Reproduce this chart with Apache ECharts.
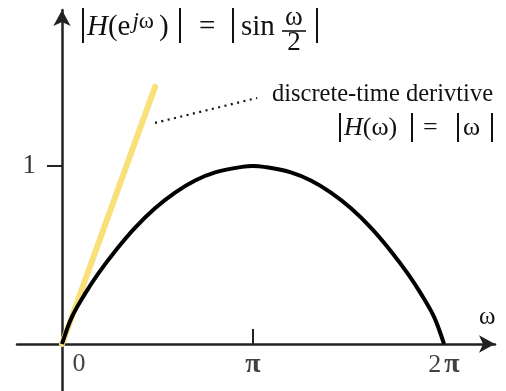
<!DOCTYPE html>
<html>
<head>
<meta charset="utf-8">
<style>
  html, body { margin: 0; padding: 0; background: #fff; }
  #chart { width: 506px; height: 391px; }
</style>
<script src="https://cdn.jsdelivr.net/npm/echarts@6/dist/echarts.min.js"></script>
</head>
<body>
<div id="chart"></div>
<script>
// Magnitude response |H(e^{jω})| of the discrete-time derivative, sampled over 0..2π
const omega = [0, 0.16, 0.38, 0.59, 0.87, 1.20, 1.53, 1.86, 2.19, 2.52, 2.96, 3.14,
               3.323, 3.763, 4.093, 4.423, 4.753, 5.083, 5.413, 5.693, 5.903, 6.123, 6.283];
const magnitude = [0, 0.150, 0.283, 0.393, 0.520, 0.652, 0.762, 0.850, 0.918, 0.964, 0.995, 1.0,
                   0.995, 0.964, 0.918, 0.850, 0.762, 0.652, 0.520, 0.393, 0.283, 0.150, 0];

// Ideal (continuous-time) derivative |H(ω)| = |ω|, drawn as a short straight segment
const idealOmega = [0, 1.53];
const idealMagnitude = [0, 1.444];

// Dotted leader from the ideal line to its caption
const leaderOmega = [1.53, 3.21];
const leaderMagnitude = [1.242, 1.382];

// Tick positions and labels
const xTickValues = [0, Math.PI, 2 * Math.PI];
const xTickLabels = ['{z|0}', '{p|π}', '{n|2}{p|π}'];
const yTickValues = [1];
const yTickLabels = ['1'];

const SERIF = '"Liberation Serif", "DejaVu Serif", serif';
const INK = '#111';

const zip = (a, b) => a.map((v, i) => [v, b[i]]);

const chart = echarts.init(document.getElementById('chart'), null, { renderer: 'canvas' });

function bar(x, y1, y2) {
  return { type: 'line', shape: { x1: x, y1: y1, x2: x, y2: y2 },
           style: { stroke: INK, lineWidth: 2 }, z: 100 };
}
function txt(x, y, text, size, extra) {
  return Object.assign({ type: 'text', x: x, y: y, z: 100,
    style: Object.assign({ text: text, font: size + 'px ' + SERIF, fill: INK,
                           textAlign: 'left', textVerticalAlign: 'middle' }, extra || {}) });
}

const axisLineStyle = { color: '#222', width: 2.5 };

const option = {
  animation: false,
  backgroundColor: '#fff',
  grid: { left: 17, right: 11, top: 10, bottom: 0, containLabel: false, outerBoundsMode: 'none' },
  xAxis: {
    type: 'value',
    min: -0.740,
    max: 7.122,
    splitLine: { show: false },
    axisLine: { onZero: true, symbol: ['none', 'arrow'], symbolSize: [13, 16], lineStyle: axisLineStyle },
    axisTick: { customValues: [Math.PI], inside: true, length: 15,
                lineStyle: { color: '#222', width: 2 } },
    axisLabel: { show: false }
  },
  yAxis: {
    type: 'value',
    min: -0.264,
    max: 1.876,
    splitLine: { show: false },
    axisLine: { onZero: true, symbol: ['none', 'arrow'], symbolSize: [13, 16], lineStyle: axisLineStyle },
    axisTick: { customValues: yTickValues, length: 15,
                lineStyle: { color: '#222', width: 2 } },
    axisLabel: { show: false }
  },
  series: [
    {
      name: '|H(ω)| = |ω|',
      type: 'line',
      data: zip(idealOmega, idealMagnitude),
      showSymbol: false,
      lineStyle: { color: '#f8e07a', width: 6, cap: 'round' },
      z: 2
    },
    {
      name: '|H(e^jω)| = |sin ω/2|',
      type: 'line',
      data: zip(omega, magnitude),
      smooth: 0.35,
      showSymbol: false,
      lineStyle: { color: '#000', width: 4 },
      z: 3
    },
    {
      name: 'leader',
      type: 'line',
      data: zip(leaderOmega, leaderMagnitude),
      showSymbol: false,
      lineStyle: { color: '#111', width: 2.2, type: [2, 4.5] },
      z: 3
    },
    {
      // tick labels along the ω axis, anchored at the tick values
      name: 'xTickLabels',
      type: 'scatter',
      silent: true,
      symbolSize: 0,
      data: xTickValues.map((v, i) => ({
        value: [v, 0],
        label: { formatter: xTickLabels[i], offset: i === 0 ? [17, 0] : [0, 0] }
      })),
      label: {
        show: true, position: 'bottom', distance: 7,
        rich: {
          z: { fontFamily: SERIF, fontSize: 26, color: INK },
          n: { fontFamily: SERIF, fontSize: 26, color: INK, padding: [0, 3, 0, 0] },
          p: { fontFamily: SERIF, fontSize: 28, fontWeight: 'bold', color: INK }
        }
      },
      z: 5
    },
    {
      // tick label along the magnitude axis
      name: 'yTickLabels',
      type: 'scatter',
      silent: true,
      symbolSize: 0,
      data: yTickValues.map((v, i) => ({ value: [0, v], label: { formatter: yTickLabels[i] } })),
      label: { show: true, position: 'left', distance: 26,
               fontFamily: SERIF, fontSize: 27, color: '#000' },
      z: 5
    }
  ],
  graphic: [
    // Axis caption: ω
    txt(479, 317, 'ω', 25),

    // Heading: |H(e^{jω})| = |sin ω/2|
    bar(83, 8, 43),
    txt(87, 27, '{i|H}{r|(e}{s|j}{w|ω}{c|)}', 29, {
      rich: {
        i: { fontFamily: SERIF, fontSize: 29, fontStyle: 'italic', color: INK, lineHeight: 34 },
        r: { fontFamily: SERIF, fontSize: 29, color: INK, lineHeight: 34 },
        c: { fontFamily: SERIF, fontSize: 29, color: INK, lineHeight: 34, padding: [0, 0, 0, 5] },
        s: { fontFamily: SERIF, fontSize: 23, fontStyle: 'italic', color: INK, verticalAlign: 'top', lineHeight: 34, padding: [0, 0, 0, 2] },
        w: { fontFamily: SERIF, fontSize: 23, color: INK, verticalAlign: 'top', lineHeight: 34 }
      }
    }),
    bar(180, 8, 43),
    txt(199, 27, '=', 29),
    bar(233, 8, 43),
    txt(241, 27, 'sin', 29),
    txt(294, 18, 'ω', 27, { textAlign: 'center' }),
    { type: 'line', shape: { x1: 282, y1: 31, x2: 306, y2: 31 },
      style: { stroke: INK, lineWidth: 1.6 }, z: 100 },
    txt(294, 43, '2', 27, { textAlign: 'center' }),
    bar(317, 8, 43),

    // Caption of the ideal derivative
    txt(493, 95, 'discrete-time derivtive', 24.5, { textAlign: 'right' }),
    bar(340, 113, 142),
    txt(344, 128, '{i|H}{r|(ω)}', 26, {
      rich: {
        i: { fontFamily: SERIF, fontSize: 26, fontStyle: 'italic', color: INK },
        r: { fontFamily: SERIF, fontSize: 26, color: INK }
      }
    }),
    bar(412, 113, 142),
    txt(423, 128, '=', 26),
    bar(458, 113, 142),
    txt(463, 128, 'ω', 26),
    bar(492, 113, 142)
  ]
};

chart.setOption(option);
</script>
</body>
</html>
